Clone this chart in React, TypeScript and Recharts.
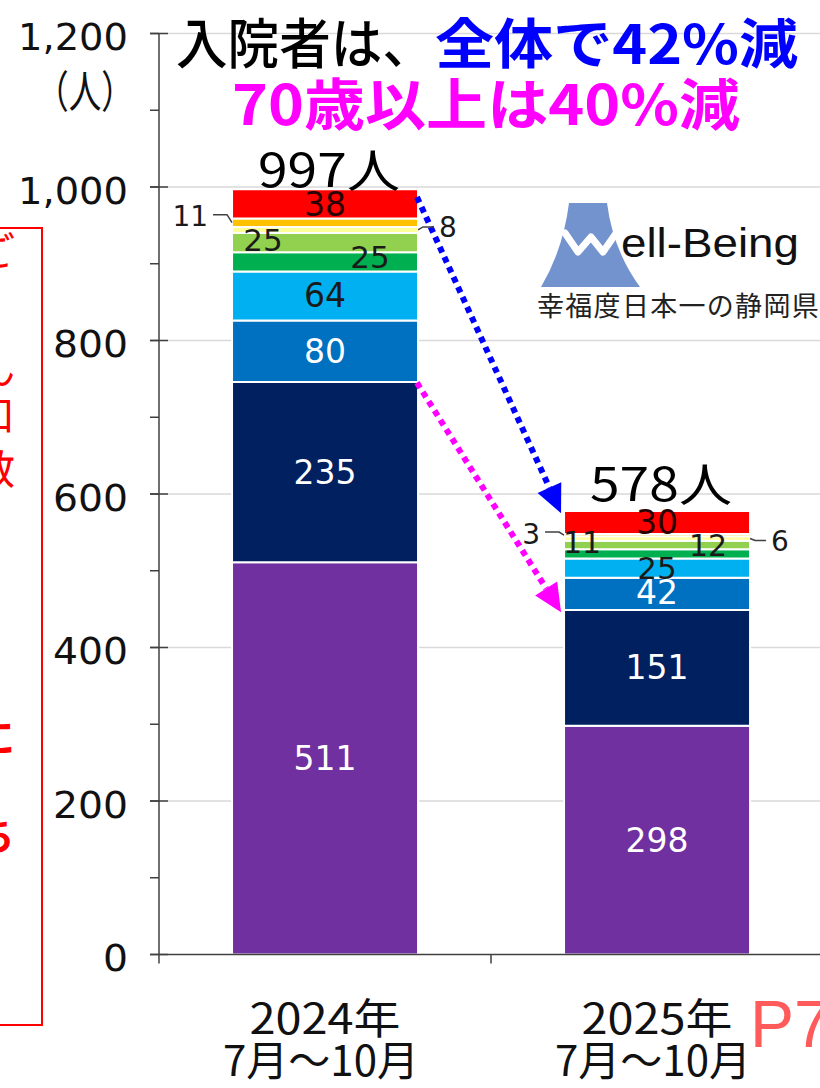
import React from 'react';
import { BarChart, Bar, XAxis, YAxis, CartesianGrid, LabelList, ReferenceLine } from 'recharts';

const categories = ['2024', '2025'];
const periodYear = ['2024年', '2025年'];
const periodMonths = ['7月～10月', '7月～10月'];
const age80plus = [511, 298];
const age70s = [235, 151];
const age60s = [80, 42];
const age50s = [64, 25];
const age40s = [25, 12];
const age30s = [25, 11];
const age20s = [8, 6];
const age10s = [11, 3];
const ageUnder10 = [38, 30];
const totals = [997, 578];
const yTicks = [0, 100, 200, 300, 400, 500, 600, 700, 800, 900, 1000, 1100, 1200];
const yLabelTicks = [0, 200, 400, 600, 800, 1000, 1200];
const yTickText = ['0', '200', '400', '600', '800', '1,000', '1,200'];
const gridValues = [200, 400, 600, 800, 1000, 1200];
// arrow annotations: [from value, to value] on the y axis, between the two categories
const arrowTotalY = [987, 575];
const arrow70Y = [745, 446];

const BAR_GAP = 0.22; // barCategoryGap fraction
const totalLabelDy = [-2, -10];

type Spec = { mode: 'in' | 'outL' | 'outR'; dx?: number; dy?: number; size?: number };

const seriesDefs: { key: string; name: string; values: number[]; color: string; text: string; labels: Spec[] }[] = [
  { key: 'a80', name: '80歳以上', values: age80plus, color: '#7030A0', text: '#ffffff', labels: [{ mode: 'in' }, { mode: 'in' }] },
  { key: 'a70', name: '70代', values: age70s, color: '#002060', text: '#ffffff', labels: [{ mode: 'in' }, { mode: 'in' }] },
  { key: 'a60', name: '60代', values: age60s, color: '#0070C0', text: '#ffffff', labels: [{ mode: 'in' }, { mode: 'in', dy: -1 }] },
  { key: 'a50', name: '50代', values: age50s, color: '#00B0F0', text: '#1a1a1a', labels: [{ mode: 'in' }, { mode: 'in', size: 31 }] },
  { key: 'a40', name: '40代', values: age40s, color: '#00B050', text: '#1a1a1a', labels: [{ mode: 'in', dx: 45, dy: -5, size: 31 }, { mode: 'in', dx: 51, dy: -8, size: 30 }] },
  { key: 'a30', name: '30代', values: age30s, color: '#92D050', text: '#1a1a1a', labels: [{ mode: 'in', dx: -62, dy: -3, size: 31 }, { mode: 'in', dx: -75, dy: -3, size: 30 }] },
  { key: 'a20', name: '20代', values: age20s, color: '#FFFF99', text: '#1a1a1a', labels: [{ mode: 'outR', dy: -3 }, { mode: 'outR', dy: 2 }] },
  { key: 'a10', name: '10代', values: age10s, color: '#FFC000', text: '#1a1a1a', labels: [{ mode: 'outL', dy: -8 }, { mode: 'outL', dy: -3 }] },
  { key: 'u10', name: '10歳未満', values: ageUnder10, color: '#FF0000', text: '#2a0000', labels: [{ mode: 'in', dy: 1 }, { mode: 'in' }] },
];

const data = categories.map((c, i) => {
  const row: any = { cat: c };
  seriesDefs.forEach((s) => {
    row[s.key] = s.values[i];
  });
  return row;
});

const NUM_FONT = '"DejaVu Sans", Verdana, sans-serif';
const JP_FONT = '"Noto Sans CJK JP", "Noto Sans", sans-serif';

const rectOf = (p: any) => {
  const vb = p.viewBox && p.viewBox.width !== undefined ? p.viewBox : p;
  return { x: Number(vb.x), y: Number(vb.y), w: Number(vb.width), h: Number(vb.height) };
};

const makeLabel = (s: (typeof seriesDefs)[number]) => (p: any) => {
  const idx = Number(p.index);
  const spec = s.labels[idx];
  if (!spec) return null;
  const { x, y, w, h } = rectOf(p);
  const cy = y + h / 2;
  const val = s.values[idx];
  if (spec.mode === 'in') {
    return (
      <text
        x={x + w / 2 + (spec.dx || 0)}
        y={cy + (spec.dy || 0)}
        textAnchor="middle"
        dominantBaseline="central"
        fontFamily={NUM_FONT}
        fontSize={spec.size || 33}
        fill={s.text}
      >
        {val}
      </text>
    );
  }
  const ly = cy + (spec.dy || 0);
  if (spec.mode === 'outL') {
    return (
      <g>
        <polyline points={`${x - 19},${ly} ${x - 5},${ly} ${x},${cy}`} fill="none" stroke="#404040" strokeWidth={1.5} />
        <text x={x - 24} y={ly + 2} textAnchor="end" dominantBaseline="central" fontFamily={NUM_FONT} fontSize={28} fill="#1a1a1a">
          {val}
        </text>
      </g>
    );
  }
  return (
    <g>
      <polyline points={`${x + w},${cy} ${x + w + 5},${ly} ${x + w + 16},${ly}`} fill="none" stroke="#404040" strokeWidth={1.5} />
      <text x={x + w + 21} y={ly + 1} textAnchor="start" dominantBaseline="central" fontFamily={NUM_FONT} fontSize={28} fill="#1a1a1a">
        {val}
      </text>
    </g>
  );
};

const TotalLabel = (p: any) => {
  const idx = Number(p.index);
  const { x, y, w } = rectOf(p);
  return (
    <text
      x={x + w / 2 + 4}
      y={y + (totalLabelDy[idx] ?? -4)}
      textAnchor="middle"
      fontFamily={JP_FONT}
      fontSize={46}
      fill="#000"
      textLength={142}
      lengthAdjust="spacingAndGlyphs"
    >
      {totals[idx]}人
    </text>
  );
};

const YTick = (p: any) => {
  const { x, y, payload } = p;
  const v = payload?.value;
  const k = yLabelTicks.indexOf(v);
  if (k < 0) return null;
  const ax = x + 11;
  const label = yTickText[k];
  const digits = label.replace(/,/g, '').length;
  const commas = label.length - digits;
  return (
    <g>
      <line x1={ax - 9} x2={ax + 9} y1={y} y2={y} stroke="#404040" strokeWidth={1.5} />
      <text
        x={ax - 31}
        y={y + 4}
        textAnchor="end"
        dominantBaseline="central"
        fontFamily={NUM_FONT}
        fontSize={37}
        fill="#111"
        textLength={digits * 25 + commas * 10}
        lengthAdjust="spacingAndGlyphs"
      >
        {label}
      </text>
      {v === 1200 && (
        <text
          x={ax - 74}
          y={y + 74}
          textAnchor="middle"
          fontFamily={JP_FONT}
          fontSize={44}
          fill="#111"
          textLength={98}
          lengthAdjust="spacingAndGlyphs"
        >
          （人）
        </text>
      )}
    </g>
  );
};

const XTick = (p: any) => {
  const { x, y, payload } = p;
  const i = categories.indexOf(payload?.value);
  if (i < 0) return null;
  return (
    <g>
      <text x={x} y={y + 79} textAnchor="middle" fontFamily={JP_FONT} fontSize={42} fill="#111" textLength={151} lengthAdjust="spacingAndGlyphs">
        {periodYear[i]}
      </text>
      <text x={x - 4} y={y + 121} textAnchor="middle" fontFamily={JP_FONT} fontSize={42} fill="#111" textLength={196} lengthAdjust="spacingAndGlyphs">
        {periodMonths[i]}
      </text>
    </g>
  );
};

// x1/x2 arrive as the two category centres; the bar edges follow from the band width.
const makeArrow = (color: string) => (p: any) => {
  const cx1 = Number(p.x1), y1 = Number(p.y1), cx2 = Number(p.x2), y2 = Number(p.y2);
  const band = cx2 - cx1;
  const half = band * (1 - 2 * BAR_GAP) / 2;
  const x1 = cx1 + half - 1;
  const x2 = cx2 - half - 3;
  const dx = x2 - x1, dy = y2 - y1;
  const len = Math.hypot(dx, dy) || 1;
  const ux = dx / len, uy = dy / len;
  const head = 28, hw = 13;
  const bx = x2 - ux * head, by = y2 - uy * head;
  const pts = `${x2},${y2} ${bx - uy * hw},${by + ux * hw} ${bx + uy * hw},${by - ux * hw}`;
  return (
    <g>
      <line x1={x1} y1={y1} x2={bx} y2={by} stroke={color} strokeWidth={6} strokeDasharray="6 5" />
      <polygon points={pts} fill={color} />
    </g>
  );
};

// short tick marks on the category axis: at the left plot edge and between the categories
const BoundaryTick = (p: any) => {
  const cx1 = Number(p.x1), cx2 = Number(p.x2), y = Number(p.y1);
  const band = cx2 - cx1;
  const mx = (cx1 + cx2) / 2;
  const lx = cx1 - band / 2;
  return (
    <g>
      <line x1={mx} x2={mx} y1={y} y2={y + 9} stroke="#404040" strokeWidth={1.5} />
      <line x1={lx} x2={lx} y1={y} y2={y + 9} stroke="#404040" strokeWidth={1.5} />
    </g>
  );
};

const redChars = [
  { ch: 'ご', y: 266 },
  { ch: 'ん', y: 384 },
  { ch: '口', y: 430 },
  { ch: '数', y: 484 },
  { ch: '、', y: 600 },
  { ch: 'に', y: 752, bold: true },
  { ch: 'ち', y: 850, bold: true },
  { ch: '・', y: 945 },
];

export default function App() {
  return (
    <div style={{ position: 'absolute', left: 0, top: 0, width: 820, height: 1088, overflow: 'hidden', background: '#fff' }}>
      <BarChart
        width={840}
        height={1088}
        data={data}
        margin={{ top: 33.5, right: 17, bottom: 0, left: 0 }}
        barCategoryGap={`${BAR_GAP * 100}%`}
      >
        <CartesianGrid vertical={false} horizontalValues={gridValues} stroke="#d9d9d9" strokeWidth={1.5} />
        <XAxis
          dataKey="cat"
          height={133.5}
          axisLine={{ stroke: '#404040', strokeWidth: 1.5 }}
          tickLine={false}
          tickSize={0}
          tickMargin={0}
          tick={<XTick />}
          interval={0}
        />
        <YAxis
          width={159}
          domain={[0, 1200]}
          ticks={yTicks}
          interval={0}
          tickSize={9}
          tickMargin={2}
          axisLine={{ stroke: '#404040', strokeWidth: 1.5 }}
          tickLine={{ stroke: '#404040', strokeWidth: 1.5 }}
          tick={<YTick />}
        />
        {seriesDefs.map((s, si) => (
          <Bar
            key={s.key}
            dataKey={s.key}
            name={s.name}
            stackId="a"
            fill={s.color}
            stroke="#ffffff"
            strokeWidth={2}
            isAnimationActive={false}
          >
            <LabelList dataKey={s.key} content={makeLabel(s)} />
            {si === seriesDefs.length - 1 && <LabelList dataKey={s.key} content={TotalLabel} />}
          </Bar>
        ))}
        <ReferenceLine
          segment={[{ x: categories[0], y: 0 }, { x: categories[1], y: 0 }]}
          ifOverflow="visible"
          shape={BoundaryTick}
        />
        <ReferenceLine
          segment={[{ x: categories[0], y: arrowTotalY[0] }, { x: categories[1], y: arrowTotalY[1] }]}
          ifOverflow="visible"
          shape={makeArrow('#0000FF')}
        />
        <ReferenceLine
          segment={[{ x: categories[0], y: arrow70Y[0] }, { x: categories[1], y: arrow70Y[1] }]}
          ifOverflow="visible"
          shape={makeArrow('#FF00FF')}
        />
      </BarChart>
      <svg width={820} height={1088} style={{ position: 'absolute', left: 0, top: 0, pointerEvents: 'none' }}>
        <text x={176} y={64} fontFamily={JP_FONT} fontSize={54} fontWeight={500} fill="#000" textLength={258} lengthAdjust="spacingAndGlyphs">
          入院者は、
        </text>
        <text x={435} y={64} fontFamily={JP_FONT} fontSize={54} fontWeight={700} fill="#0000FF" textLength={363} lengthAdjust="spacingAndGlyphs">
          全体で42%減
        </text>
        <text x={232} y={125} fontFamily={JP_FONT} fontSize={56} fontWeight={700} fill="#FF00FF" textLength={508} lengthAdjust="spacingAndGlyphs">
          70歳以上は40%減
        </text>
        <path d="M541,287 Q563,250 569,203 L607,203 Q613,250 640,287 Z" fill="#7393CF" />
        <polyline points="565,233 578,252 591,237 603,252 619,229" fill="none" stroke="#ffffff" strokeWidth={7} strokeLinejoin="round" strokeLinecap="round" />
        <text x={621} y={257} fontFamily='"Liberation Sans", Arial, sans-serif' fontSize={40} fill="#111" textLength={178} lengthAdjust="spacingAndGlyphs">
          ell-Being
        </text>
        <text x={537} y={316} fontFamily={JP_FONT} fontSize={27} fill="#222" letterSpacing={1.3}>
          幸福度日本一の静岡県
        </text>
        <rect x={-2} y={228} width={44} height={797} fill="none" stroke="#FF0000" strokeWidth={2} />
        {redChars.map((c) => (
          <text key={c.y} x={-5} y={c.y} textAnchor="middle" fontFamily={JP_FONT} fontSize={40} fontWeight={c.bold ? 700 : 400} fill="#FF0000">
            {c.ch}
          </text>
        ))}
        <text x={750} y={1047} fontFamily='"Liberation Sans", Arial, sans-serif' fontSize={66} fill="#FF5B5B">
          P7
        </text>
      </svg>
    </div>
  );
}
